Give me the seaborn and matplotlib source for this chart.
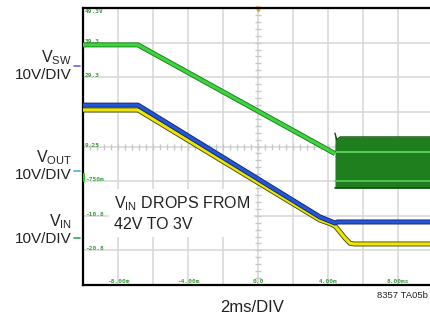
import numpy as np
import pandas as pd
import matplotlib
matplotlib.use("Agg")
import matplotlib.pyplot as plt
import matplotlib.patheffects as pe
import seaborn as sns

# ---- data (time in ms, scope screen volts: 10 V/div, center = 9.25 V) ----
t_vsw = [-10.0, -6.86, 4.4]
v_vsw = [38.6, 38.6, 7.2]

t_band = [4.4, 4.5, 4.7, 9.9]
band_top = [13.1, 11.2, 12.0, 12.0]
band_bot = [-2.7, -2.7, -2.7, -2.7]
band_line_hi = 7.7
band_line_lo = -0.7

t_vout = [-10.0, -6.86, 3.54, 4.4, 4.55, 9.9]
v_vout = [21.2, 21.2, -11.1, -12.85, -12.55, -12.55]

t_vin = [-10.0, -6.86, 3.54, 4.1, 4.4, 4.69, 4.97, 5.26, 5.5, 9.9]
v_vin = [19.8, 19.8, -12.0, -13.0, -13.7, -15.45, -17.2, -18.7, -18.9, -18.9]

x_grid = [-8, -6, -4, -2, 0, 2, 4, 6, 8]
x_labels = {-8: "-8.00m", -4: "-4.00m", 0: "0.0", 4: "4.00m", 8: "8.00ms"}
y_grid = [39.25, 29.25, 19.25, 9.25, -0.75, -10.75, -20.75]
y_labels = ["49.3V", "39.3", "29.3", "19.3", "9.25", "-750m", "-10.8", "-20.8"]
y_label_pos = [49.25, 39.25, 29.25, 19.25, 9.25, -0.75, -10.75, -20.75]

sns.set_style("white")
plt.rcParams["font.family"] = ["Liberation Sans", "DejaVu Sans"]

fig = plt.figure(figsize=(4.3, 3.2), dpi=100)
ax = fig.add_axes([83 / 430, 35 / 320, 1 - 83 / 430, 277 / 320])
ax.set_xlim(-10, 9.83)
ax.set_ylim(-30.75, 49.25)

ax.set_xticks(x_grid)
ax.set_yticks(y_grid)
ax.grid(True, color="#d6d6d6", linewidth=1.1)
ax.tick_params(length=0, labelbottom=False, labelleft=False)
for s in ["top", "left", "bottom"]:
    ax.spines[s].set_color("black")
    ax.spines[s].set_linewidth(1.6)
ax.spines["right"].set_visible(False)

# minor ticks on center lines
mt_y = np.arange(-30.75, 49.3, 2.0)
ax.plot(np.zeros_like(mt_y), mt_y, ls="none", marker="_", ms=4, color="#c8c8c8", mew=1)
mt_x = np.arange(-10, 10.01, 0.4)
ax.plot(mt_x, np.full_like(mt_x, 9.25), ls="none", marker="|", ms=4, color="#c8c8c8", mew=1)

# scope scale labels
for lab, yv in zip(y_labels, y_label_pos):
    ax.text(-9.88, yv - 0.3, lab, fontsize=4.4, color="#3f9f3f", family="DejaVu Sans Mono",
            ha="left", va="top" if yv > 49 else "bottom", fontweight="bold")
for xv, lab in x_labels.items():
    ax.text(xv, -30.4, lab, fontsize=4.4, color="#3f9f3f", family="DejaVu Sans Mono",
            ha="center", va="bottom", fontweight="bold")

# trigger marker
ax.plot([0], [48.9], marker="v", ms=3.5, color="#f0a020", ls="none", clip_on=False)

# VSW switching band
ax.fill_between(t_band, band_bot, band_top, color="#1f7f1f", lw=0, zorder=3)
ax.plot(t_band, band_top, color="#0f500f", lw=1.0, zorder=3)
ax.plot(t_band, band_bot, color="#0f500f", lw=1.2, zorder=3)
ax.plot([t_band[0], t_band[-1]], [band_line_hi] * 2, color="#56d056", lw=1.4, zorder=3)
ax.plot([t_band[0], t_band[-1]], [band_line_lo] * 2, color="#56d056", lw=1.2, zorder=3)

# traces
df_vin = pd.DataFrame({"t": t_vin, "v": v_vin})
df_vout = pd.DataFrame({"t": t_vout, "v": v_vout})
df_vsw = pd.DataFrame({"t": t_vsw, "v": v_vsw})

def trace(df, color, edge):
    n0 = len(ax.lines)
    sns.lineplot(data=df, x="t", y="v", ax=ax, color=color, lw=2.3, sort=False,
                 estimator=None, zorder=4)
    for ln in ax.lines[n0:]:
        ln.set_path_effects([pe.Stroke(linewidth=3.6, foreground=edge), pe.Normal()])
        ln.set_solid_capstyle("butt")

trace(df_vin, "#ece600", "#4a4a10")
trace(df_vout, "#2456d8", "#122a70")
trace(df_vsw, "#3fd43f", "#16801a")
ax.set_xlabel("")
ax.set_ylabel("")

# annotation
ax.text(-8.25, -10.1, "V$_\\mathregular{IN}$ DROPS FROM\n42V TO 3V", fontsize=11.5,
        color="#222222", ha="left", va="center", linespacing=1.35, zorder=5,
        bbox=dict(facecolor="white", edgecolor="none", pad=3))

# left channel labels
def flab(x, y, s, **kw):
    fig.text(x / 430, 1 - y / 320, s, **kw)

for name, y0, mcol in [("SW", 58, "#7a5ad8"), ("OUT", 158, "#3cb4e0"), ("IN", 222, "#3ca060")]:
    flab(72, y0, "V$_\\mathregular{%s}$" % name, fontsize=11.5, ha="right", va="center", color="#222222")
    flab(72, y0 + 17, "10V/DIV", fontsize=11, ha="right", va="center", color="#222222")
    ymark = {"SW": 66, "OUT": 171, "IN": 238}[name]
    fig.add_artist(plt.Line2D([74 / 430, 80 / 430], [1 - ymark / 320] * 2, color=mcol, lw=1.2))

fig.add_artist(plt.Line2D([83.5 / 430] * 2, [1 - 174 / 320, 1 - 181 / 320], color="#22cc22", lw=1.5))

flab(252, 307, "2ms/DIV", fontsize=12, ha="center", va="center", color="#222222")
flab(428, 296, "8357 TA05b", fontsize=6.8, ha="right", va="center", color="#222222")

fig.savefig("out.png", dpi=100)
